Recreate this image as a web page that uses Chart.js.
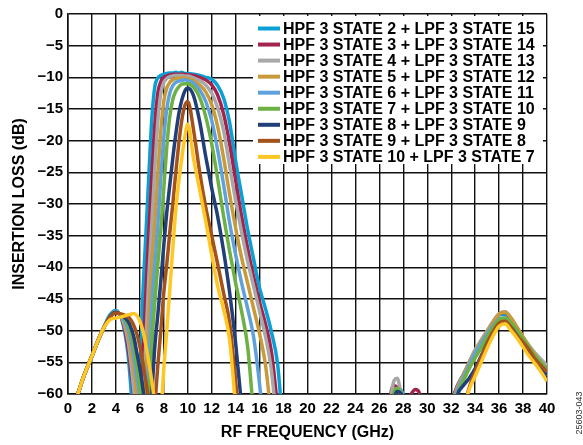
<!DOCTYPE html>
<html>
<head>
<meta charset="utf-8">
<script src="https://cdn.jsdelivr.net/npm/chart.js@4"></script>
<style>
  html, body { margin: 0; padding: 0; background: #fff; }
  canvas { display: block; }
</style>
</head>
<body>
<canvas id="lossChart" width="583" height="445"></canvas>
<script>
// Frequency points (GHz), shared by all nine traces
const freqGHz = [
  0.5, 0.75, 1, 1.5, 2, 2.5, 3, 3.5, 4, 4.5,
  5, 5.25, 5.5, 5.75, 6, 6.25, 6.5, 6.75, 7, 7.25,
  7.5, 7.75, 8, 8.25, 8.5, 8.75, 9, 9.25, 9.5, 9.75,
  10, 10.5, 11, 11.5, 12, 12.5, 13, 13.5, 14, 14.5,
  15, 15.5, 16, 16.5, 17, 17.5, 18, 18.5, 19,
  26.5, 27, 27.25, 27.5, 27.75, 28, 28.5, 29, 29.5, 30,
  32, 32.5, 33, 33.5, 34, 34.5, 35, 35.5, 36, 36.5, 37, 37.5, 38, 38.5, 39, 39.5, 40
];

// Insertion loss (dB) per state (values below -60 run off the axis)
const lossHpf2 = [
  -68, -61, -59, -56.3, -54, -51.6, -49.4, -47.5, -46.8, -48.3,
  -53.5, -59, -66, -72, -59, -44.5, -35, -25.5, -16.5, -11.5,
  -10.1, -9.7, -9.5, -9.4, -9.3, -9.3, -9.2, -9.3, -9.2, -9.4,
  -9.4, -9.5, -9.7, -10.0, -10.3, -11.3, -13.3, -17.2, -23.2, -28.6,
  -34.0, -38.7, -43.3, -46.6, -50.3, -55.2, -66, -72, -75,
  -75, -61, -59.8, -59.3, -59.4, -60.3, -66, -70, -72, -75,
  -61.5, -58.8, -57, -55.3, -53.6, -52, -50.3, -48.8, -47.5, -47.4, -48.5, -50, -51.5, -53, -54.3, -55.5, -56.8
];
const lossHpf3 = [
  -68, -61, -59, -56.3, -54, -51.6, -49.5, -47.8, -47.0, -48.1,
  -52.5, -56.5, -61, -75, -66, -55, -44, -34.5, -25.5, -17.5,
  -12.5, -10.7, -10.0, -9.8, -9.6, -9.5, -9.5, -9.5, -9.5, -9.5,
  -9.6, -9.7, -10.0, -10.4, -11.2, -12.8, -15.8, -20.5, -26.3, -32,
  -37, -41.5, -45.5, -49, -53.5, -62, -70, -75, -75,
  -75, -59.5, -58.7, -59.0, -60.2, -62, -60.5, -59.3, -61, -75,
  -61.5, -58.8, -57, -55, -53.2, -51.6, -50.1, -48.6, -47.4, -47.1, -48.1, -49.6, -51.1, -52.5, -53.8, -55, -56.2
];
const lossHpf4 = [
  -68, -61, -59, -56.3, -54, -51.6, -49.5, -47.8, -47.0, -48.0,
  -51.5, -55, -59.5, -64, -75, -63, -52, -41.5, -33, -24.5,
  -17, -12.5, -10.8, -10.2, -9.9, -9.8, -9.7, -9.7, -9.7, -9.8,
  -9.8, -10.1, -10.5, -11.2, -12.5, -14.8, -18.5, -24, -29.5, -34.5,
  -39, -43, -47, -51, -56.5, -66, -72, -75, -75,
  -75, -60.3, -57.8, -57.5, -59.4, -62, -70, -72, -75, -75,
  -62, -59, -57, -55, -53, -51.5, -50, -48.6, -47.3, -47, -48, -49.5, -51, -52.3, -53.5, -54.5, -55.5
];
const lossHpf5 = [
  -68, -61, -59, -56.3, -54, -51.6, -49.5, -47.8, -47.0, -47.9,
  -50.5, -53, -56, -60.5, -68, -72, -58, -48, -39.5, -33,
  -25.5, -18.5, -13.8, -11.7, -10.8, -10.4, -10.2, -10.1, -10.1, -10.1,
  -10.2, -10.5, -11.2, -12.3, -14.3, -17.8, -22.8, -28.5, -33.8, -38.5,
  -42.5, -46.5, -50.5, -55.5, -64, -72, -75, -75, -75,
  -75, -61, -59.8, -59.5, -60.2, -62, -70, -75, -75, -75,
  -62, -59.2, -57.2, -55.2, -53.3, -51.7, -50.2, -48.7, -47.4, -47.1, -48, -49.5, -51, -52.5, -53.8, -55, -56.2
];
const lossHpf6 = [
  -68, -61, -59, -56.3, -54, -51.6, -49.5, -47.8, -47.0, -47.8,
  -49.7, -51.5, -54, -57.5, -61, -70, -66, -55, -46, -39.5,
  -33.4, -26, -19.5, -15, -12.5, -11.3, -10.8, -10.6, -10.5, -10.4,
  -10.5, -10.9, -12, -13.8, -16.8, -21.5, -27, -33, -38, -42.5,
  -46.5, -51, -58.5, -68, -75, -75, -75, -75, -75,
  -75, -62, -60, -59.3, -59.3, -60.3, -66, -75, -75, -75,
  -62, -59.5, -57.5, -55.5, -53.5, -52, -50.5, -49.2, -48.2, -48, -49, -50.5, -52, -53.5, -55, -56, -57
];
const lossHpf7 = [
  -68, -61, -59, -56.3, -54, -51.6, -49.5, -47.8, -47.1, -47.7,
  -49, -50.5, -52.5, -55.5, -59, -63, -72, -61, -52, -45.5,
  -39.5, -34, -27.5, -21, -16.2, -13.5, -12.2, -11.5, -11.1, -11.0,
  -11.0, -11.6, -13.2, -16.2, -20.5, -26, -32, -37.5, -42.5, -47,
  -52.5, -63, -72, -75, -75, -75, -75, -75, -75,
  -75, -62, -59.6, -59.1, -59.6, -61, -70, -75, -75, -75,
  -63, -60, -58, -56, -54.3, -52.7, -51, -49.5, -48.3, -48, -48.8, -50, -51.3, -52.7, -54, -55, -56.3
];
const lossHpf8 = [
  -68, -61, -59, -56.3, -54, -51.6, -49.5, -47.8, -47.1, -47.6,
  -48.5, -49.5, -51, -53.5, -56, -59, -63, -67, -60, -52.5,
  -47.5, -42.2, -36.5, -31.3, -27, -22.8, -19, -15.8, -13.6, -12.2,
  -11.7, -13, -17, -22.5, -27.5, -32, -37.5, -44, -52, -62,
  -72, -75, -75, -75, -75, -75, -75, -75, -75,
  -75, -63, -60.5, -59.6, -59.8, -61, -70, -75, -75, -75,
  -66, -60.3, -58.7, -57.5, -56, -54, -52, -50.3, -49, -48.8, -49.5, -50.8, -52.2, -53.5, -54.8, -55.8, -57
];
const lossHpf9 = [
  -68, -61, -59, -56.3, -54, -51.6, -49.5, -47.9, -47.2, -47.4,
  -47.8, -48.3, -49.2, -50.5, -52.5, -55, -58, -61.5, -68, -62,
  -55.5, -50, -44, -39.5, -34.5, -30, -25, -20.5, -16.8, -14.5,
  -13.8, -18.5, -25, -30.5, -35, -39.5, -44.1, -48.8, -58, -68,
  -75, -75, -75, -75, -75, -75, -75, -75, -75,
  -75, -66, -63, -61.5, -61, -62, -70, -75, -75, -75,
  -72, -68, -63, -59, -56.5, -54.2, -52, -50.2, -48.8, -48.5, -49.5, -50.8, -51.8, -53, -54.5, -55.5, -56.5
];
const lossHpf10 = [
  -68, -61, -59, -56.3, -54, -51.6, -49.5, -48.3, -48.0, -47.8,
  -47.5, -47.4, -47.3, -47.6, -48.5, -50, -52.3, -55, -58, -62,
  -70, -63.5, -56, -50, -43.5, -37, -31, -26.5, -22.8, -19.5,
  -17.4, -23, -27.8, -32.7, -38, -43, -46.7, -51.5, -62, -72,
  -75, -75, -75, -75, -75, -75, -75, -75, -75,
  -75, -75, -75, -75, -75, -75, -75, -75, -75, -75,
  -72, -68, -63, -59.3, -57.2, -55, -52.8, -50.8, -49.3, -48.9, -50, -51.2, -52.6, -54, -55.2, -56.5, -58
];

const seriesLabels = [
  'HPF 3 STATE 2 + LPF 3 STATE 15',
  'HPF 3 STATE 3 + LPF 3 STATE 14',
  'HPF 3 STATE 4 + LPF 3 STATE 13',
  'HPF 3 STATE 5 + LPF 3 STATE 12',
  'HPF 3 STATE 6 + LPF 3 STATE 11',
  'HPF 3 STATE 7 + LPF 3 STATE 10',
  'HPF 3 STATE 8 + LPF 3 STATE 9',
  'HPF 3 STATE 9 + LPF 3 STATE 8',
  'HPF 3 STATE 10 + LPF 3 STATE 7'
];
const seriesLoss = [lossHpf2, lossHpf3, lossHpf4, lossHpf5, lossHpf6, lossHpf7, lossHpf8, lossHpf9, lossHpf10];
const seriesColors = ['#0AA0D6', '#A3234F', '#A8A8A8', '#C99A3A', '#5FA2DB', '#6DB043', '#213F78', '#A4521C', '#FFC726'];

const FONT = '"Liberation Sans", Arial, sans-serif';

// legend box sits inside the plot, over the grid but under the traces
const insideLegend = {
    id: 'insideLegend',
    beforeDatasetsDraw(chart) {
        const ctx = chart.ctx;
        ctx.save();
        ctx.fillStyle = '#fff';
        ctx.fillRect(253, 16, 290, 148);
        ctx.font = 'bold 16px ' + FONT;
        ctx.textBaseline = 'middle';
        chart.data.datasets.forEach((ds, i) => {
            const y = 28.5 + i * 16.05;
            ctx.strokeStyle = ds.borderColor;
            ctx.lineWidth = 4;
            ctx.beginPath();
            ctx.moveTo(258, y);
            ctx.lineTo(280, y);
            ctx.stroke();
            ctx.fillStyle = '#000';
            ctx.fillText(ds.label, 283, y + 1);
        });
        ctx.restore();
    },
    afterDraw(chart) {
        const ctx = chart.ctx;
        ctx.save();
        ctx.translate(580, 413);
        ctx.rotate(-Math.PI / 2);
        ctx.font = '9px ' + FONT;
        ctx.fillStyle = '#333';
        ctx.textAlign = 'center';
        ctx.textBaseline = 'middle';
        ctx.fillText('25603-043', 0, 0);
        ctx.restore();
    }
};

new Chart(document.getElementById('lossChart'), {
    type: 'line',
    data: {
        datasets: seriesLoss.map((loss, i) => ({
            label: seriesLabels[i],
            data: freqGHz.map((f, k) => ({ x: f, y: loss[k] })),
            borderColor: seriesColors[i],
            backgroundColor: seriesColors[i],
            borderWidth: 3.5,
            pointRadius: 0,
            cubicInterpolationMode: 'monotone',
            order: seriesLoss.length - i
        }))
    },
    options: {
        responsive: false,
        devicePixelRatio: 1,
        animation: false,
        layout: { padding: { left: 0, top: 14, right: 36, bottom: 0 } },
        plugins: {
            legend: { display: false },
            tooltip: { enabled: false }
        },
        scales: {
            x: {
                type: 'linear',
                min: 0,
                max: 40,
                afterFit: (scale) => { scale.height = 51; },
                ticks: {
                    stepSize: 2,
                    color: '#000',
                    padding: 6,
                    maxRotation: 0,
                    font: { family: FONT, size: 15, weight: 'bold' }
                },
                grid: { color: '#111', lineWidth: 1.4, drawTicks: false },
                border: { color: '#111', width: 1.6 },
                title: {
                    display: true,
                    text: 'RF FREQUENCY (GHz)',
                    color: '#000',
                    font: { family: FONT, size: 16, weight: 'bold' },
                    padding: { top: 0, bottom: 3 }
                }
            },
            y: {
                min: -60,
                max: 0,
                afterFit: (scale) => { scale.width = 68; },
                ticks: {
                    stepSize: 5,
                    color: '#000',
                    padding: 5,
                    font: { family: FONT, size: 15, weight: 'bold' },
                    callback: (v) => (v === 0 ? '0' : '\u2212' + Math.abs(v))
                },
                grid: { color: '#111', lineWidth: 1.4, drawTicks: false },
                border: { color: '#111', width: 1.6 },
                title: {
                    display: true,
                    text: 'INSERTION LOSS (dB)',
                    color: '#000',
                    font: { family: FONT, size: 16, weight: 'bold' },
                    padding: { top: 10, bottom: 0 }
                }
            }
        }
    },
    plugins: [insideLegend]
});
</script>
</body>
</html>
